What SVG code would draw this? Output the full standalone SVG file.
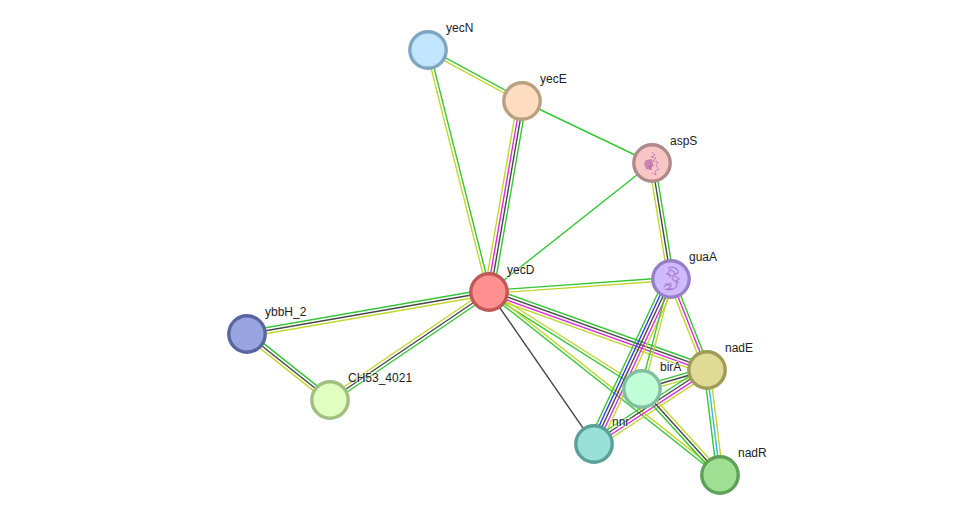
<svg xmlns="http://www.w3.org/2000/svg" width="976" height="520" viewBox="0 0 976 520">
  <style>
    line { stroke-width: 1.4; fill: none; }
    .g { stroke: #35c635; }
    .y { stroke: #c2d62e; }
    .d { stroke: #474747; }
    .m { stroke: #dc2adc; }
    .b { stroke: #3535ee; }
    .c { stroke: #2ebbdc; }
    circle { stroke-width: 3.4; }
    text { font-family: "Liberation Sans", Arial, sans-serif; font-size: 12px; fill: #222; stroke: #fff; stroke-width: 2px; stroke-opacity: .5; paint-order: stroke; }
    .fold { fill: none; stroke: #b060a8; stroke-width: 1; stroke-dasharray: 1.6 .5; opacity: .8; }
    .fold2 { fill: none; stroke: #9a68c0; stroke-width: 1.3; stroke-dasharray: 1.6 .5; opacity: .85; }
  </style>
  <!-- Evidence lines: each edge is drawn along its own x axis between two node centres -->
  <g id="connectors">
    <g transform="translate(428 50) rotate(28.49)"><line x2="106.9" y1="-1.5" y2="-1.5" class="g"/><line x2="106.9" y1="1.5" y2="1.5" class="y"/></g>
    <g transform="translate(428 50) rotate(75.85)"><line x2="249.6" y1="-1.5" y2="-1.5" class="g"/><line x2="249.6" y1="1.5" y2="1.5" class="y"/></g>
    <g transform="translate(522 101) rotate(25.5)"><line x2="144" class="g"/></g>
    <g transform="translate(522 101) rotate(99.8)"><line x2="193.8" y1="4.5" y2="4.5" class="y"/><line x2="193.8" y1="1.5" y2="1.5" class="m"/><line x2="193.8" y1="-1.5" y2="-1.5" class="d"/><line x2="193.8" y1="-4.5" y2="-4.5" class="g"/></g>
    <g transform="translate(652 163) rotate(141.64)"><line x2="207.9" class="g"/></g>
    <g transform="translate(652 163) rotate(80.7)"><line x2="117.5" y1="3" y2="3" class="y"/><line x2="117.5" class="d"/><line x2="117.5" y1="-3" y2="-3" class="g"/></g>
    <g transform="translate(489 292) rotate(-4.09)"><line x2="182.5" y1="-1.5" y2="-1.5" class="g"/><line x2="182.5" y1="1.5" y2="1.5" class="y"/></g>
    <g transform="translate(247 334) rotate(-9.85)"><line x2="245.6" y1="-3" y2="-3" class="g"/><line x2="245.6" class="d"/><line x2="245.6" y1="3" y2="3" class="y"/></g>
    <g transform="translate(247 334) rotate(38.5)"><line x2="106" y1="-3" y2="-3" class="g"/><line x2="106" class="d"/><line x2="106" y1="3" y2="3" class="y"/></g>
    <g transform="translate(330 400) rotate(-34.18)"><line x2="192.2" y1="-3" y2="-3" class="y"/><line x2="192.2" class="d"/><line x2="192.2" y1="3" y2="3" class="g"/></g>
    <g transform="translate(489 292) rotate(19.68)"><line x2="231.5" y1="-4.5" y2="-4.5" class="g"/><line x2="231.5" y1="-1.5" y2="-1.5" class="d"/><line x2="231.5" y1="1.5" y2="1.5" class="m"/><line x2="231.5" y1="4.5" y2="4.5" class="y"/></g>
    <g transform="translate(489 292) rotate(32.37)"><line x2="181.2" y1="-1.5" y2="-1.5" class="y"/><line x2="181.2" y1="1.5" y2="1.5" class="g"/></g>
    <g transform="translate(489 292) rotate(38.4)"><line x2="294.7" y1="-1.5" y2="-1.5" class="y"/><line x2="294.7" y1="1.5" y2="1.5" class="g"/></g>
    <g transform="translate(489 292) rotate(55.36)"><line x2="184.7" class="d"/></g>
    <g transform="translate(671 279) rotate(115.02)"><line x2="182.1" y1="6" y2="6" class="g"/><line x2="182.1" y1="3" y2="3" class="b"/><line x2="182.1" class="d"/><line x2="182.1" y1="-3" y2="-3" class="m"/><line x2="182.1" y1="-6" y2="-6" class="y"/></g>
    <g transform="translate(671 279) rotate(104.77)"><line x2="113.8" y1="1.5" y2="1.5" class="g"/><line x2="113.8" y1="-1.5" y2="-1.5" class="y"/></g>
    <g transform="translate(671 279) rotate(68.4)"><line x2="97.9" y1="3" y2="3" class="y"/><line x2="97.9" class="m"/><line x2="97.9" y1="-3" y2="-3" class="g"/></g>
    <g transform="translate(642 389) rotate(-16.3)"><line x2="67.7" y1="-3" y2="-3" class="g"/><line x2="67.7" class="d"/><line x2="67.7" y1="3" y2="3" class="y"/></g>
    <g transform="translate(594 444) rotate(-33.22)"><line x2="135" y1="-4.5" y2="-4.5" class="g"/><line x2="135" y1="-1.5" y2="-1.5" class="d"/><line x2="135" y1="1.5" y2="1.5" class="m"/><line x2="135" y1="4.5" y2="4.5" class="y"/></g>
    <g transform="translate(707 370) rotate(82.94)"><line x2="105.8" y1="3" y2="3" class="g"/><line x2="105.8" class="c"/><line x2="105.8" y1="-3" y2="-3" class="y"/></g>
    <g transform="translate(642 389) rotate(47.8)"><line x2="116.1" y1="-3" y2="-3" class="y"/><line x2="116.1" class="d"/><line x2="116.1" y1="3" y2="3" class="g"/></g>
  </g>
  <g id="yecN"><circle cx="428" cy="50" r="18.2" fill="#c0e6ff" stroke="#7fa6c0"/><text x="446" y="32">yecN</text></g>
  <g id="yecE"><circle cx="522" cy="101" r="18.2" fill="#ffddc0" stroke="#b8a080"/><text x="540" y="83">yecE</text></g>
  <g id="aspS"><circle cx="652" cy="163" r="18.2" fill="#f9c6c6" stroke="#b08a8a"/>
    <path class="fold" d="M652 152l3 3-4 2 5 1-3 3 5 1-2 4 3 3-4 2 1 4-4-2M654 165l-5 2 3 3"/>
    <path fill="#a84c9c" opacity=".55" d="M646 160l6-1 1 6-2 5-5-1-2-5z"/>
    <text x="670" y="145">aspS</text></g>
  <g id="guaA"><circle cx="671" cy="279" r="18.2" fill="#d0baff" stroke="#9880c8"/>
    <path class="fold2" d="M668 268c4-2 9 0 10 3 1 3-3 3-5 5-2 2 0 4 2 5 2 2 3 5 0 7-3 2-8 2-10 1M666 284l5 2-3 3 4 0M670 271l-3 3 4 1-2 2M675 276l4 3-3 2 3 2"/>
    <path class="fold2" d="M664 287c2-3 5-4 8-3M669 269c2 1 5 2 6 5"/>
    <text x="689" y="261">guaA</text></g>
  <g id="yecD"><circle cx="489" cy="292" r="18.2" fill="#ff9090" stroke="#c05858"/><text x="507" y="274">yecD</text></g>
  <g id="ybbH_2"><circle cx="247" cy="334" r="18.2" fill="#9aa4e0" stroke="#5a64a0"/><text x="265" y="316">ybbH_2</text></g>
  <g id="CH53_4021"><circle cx="330" cy="400" r="18.2" fill="#e0ffc0" stroke="#a0c080"/><text x="348" y="382">CH53_4021</text></g>
  <g id="nadE"><circle cx="707" cy="370" r="18.2" fill="#dfdb94" stroke="#9f9b58"/><text x="725" y="352">nadE</text></g>
  <g id="birA"><circle cx="642" cy="389" r="18.2" fill="#c0ffd8" stroke="#80c0a0"/><text x="660" y="371">birA</text></g>
  <g id="nnr"><circle cx="594" cy="444" r="18.2" fill="#98e0d8" stroke="#58a098"/><text x="612" y="426">nnr</text></g>
  <g id="nadR"><circle cx="720" cy="475" r="18.2" fill="#a0e094" stroke="#60a058"/><text x="738" y="457">nadR</text></g>
</svg>
